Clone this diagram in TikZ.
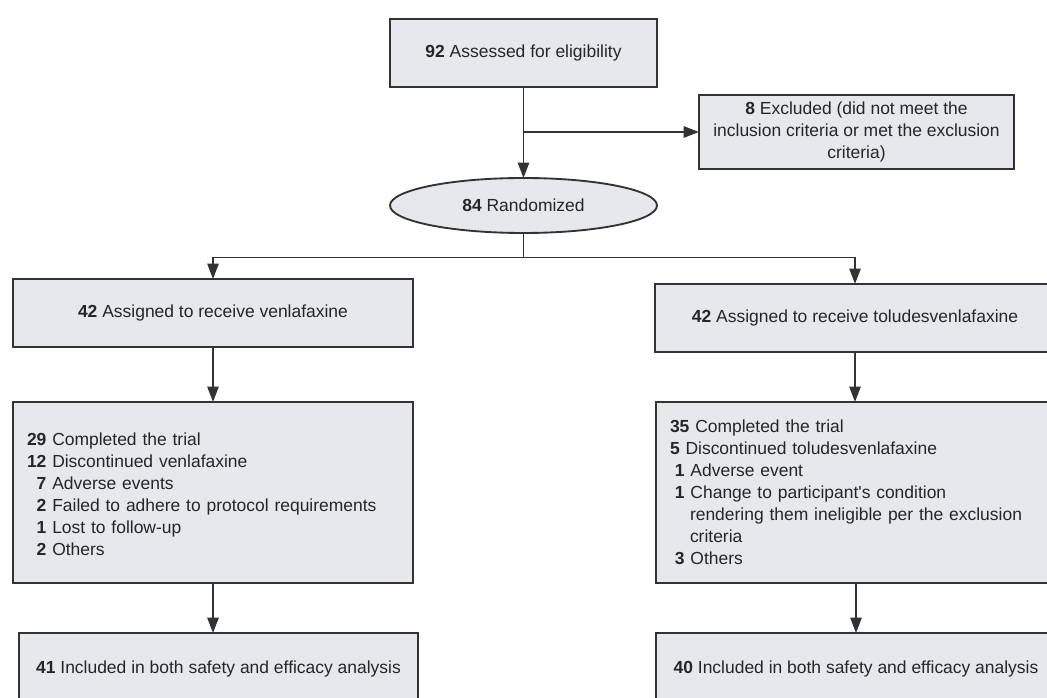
\documentclass[tikz,border=0pt]{standalone}
\usepackage{fontspec}
\setmainfont{Liberation Sans}
\usetikzlibrary{shapes.geometric,arrows.meta}
\definecolor{boxfill}{HTML}{E6E8EB}
\definecolor{ink}{HTML}{333333}
\definecolor{txt}{HTML}{262626}
\begin{document}
\begin{tikzpicture}[x=0.75pt,y=-0.75pt,
  font=\fontsize{13.1}{16.5}\selectfont,
  box/.style={draw=ink, fill=boxfill, line width=1.4pt, text=txt, inner sep=0pt, outer sep=0pt, align=center},
  conn/.style={draw=ink, line width=1.15pt},
  arr/.style={conn, -{Triangle[length=11.5pt,width=8.5pt]}}]
\useasboundingbox (0,0) rectangle (1047,698);
\clip (0,0) rectangle (1047,698);

\node[box, minimum width=200.25pt, minimum height=51pt] (assess) at (523.5,53) {\textbf{92} Assessed for eligibility};
\node[box, minimum width=236.25pt, minimum height=55.5pt] (excl) at (856.5,132) {\textbf{8} Excluded (did not meet the\\inclusion criteria or met the exclusion\\criteria)};
\node[box, ellipse, minimum width=200.25pt, minimum height=41.25pt] (rand) at (523.5,205.5) {\textbf{84} Randomized};

\node[box, minimum width=300pt, minimum height=51pt] (va) at (213,313) {\textbf{42} Assigned to receive venlafaxine};
\node[box, minimum width=300pt, minimum height=51pt] (ta) at (855,318) {\textbf{42} Assigned to receive toludesvenlafaxine};

\node[box, minimum width=300pt, minimum height=135.75pt, text width=279pt, align=left] (vc) at (213,492.5) {%
\raisebox{-2.5pt}[\height][\depth]{\begin{tabular}{@{}r@{ }l@{}}
\textbf{29} & Completed the trial\\
\textbf{12} & Discontinued venlafaxine\\
\textbf{7} & Adverse events\\
\textbf{2} & Failed to adhere to protocol requirements\\
\textbf{1} & Lost to follow-up\\
\textbf{2} & Others
\end{tabular}}};

\node[box, minimum width=300pt, minimum height=135.75pt, text width=279pt, align=left] (tc) at (856,492.5) {%
\textbf{35} Completed the trial\\
\textbf{5} Discontinued toludesvenlafaxine\\
\hspace*{3.7pt}\textbf{1} Adverse event\\
\hspace*{3.7pt}\textbf{1} Change to participant\textquotesingle s condition\\
\hspace*{15pt}rendering them ineligible per the exclusion\\
\hspace*{15pt}criteria\\
\hspace*{3.7pt}\textbf{3} Others};

\node[box, minimum width=299.25pt, minimum height=54pt] (vb) at (218.5,669) {\textbf{41} Included in both safety and efficacy analysis};
\node[box, minimum width=300pt, minimum height=54pt] (tb) at (856,669) {\textbf{40} Included in both safety and efficacy analysis};

\coordinate (j1) at (523.5,132);
\coordinate (j2) at (523.5,257.5);

\draw[arr] (assess) -- (rand);
\draw[arr] (j1) -- (excl.west);
\draw[conn] (rand.south) -- (j2);
\draw[arr] (j2) -| (va.north);
\draw[arr] (j2) -| (ta.north);
\draw[arr] (va.south) -- (va.south |- vc.north);
\draw[arr] (ta.south) -- (ta.south |- tc.north);
\draw[arr] (vc.south) -- (vc.south |- vb.north);
\draw[arr] (tc.south) -- (tc.south |- tb.north);
\end{tikzpicture}
\end{document}
